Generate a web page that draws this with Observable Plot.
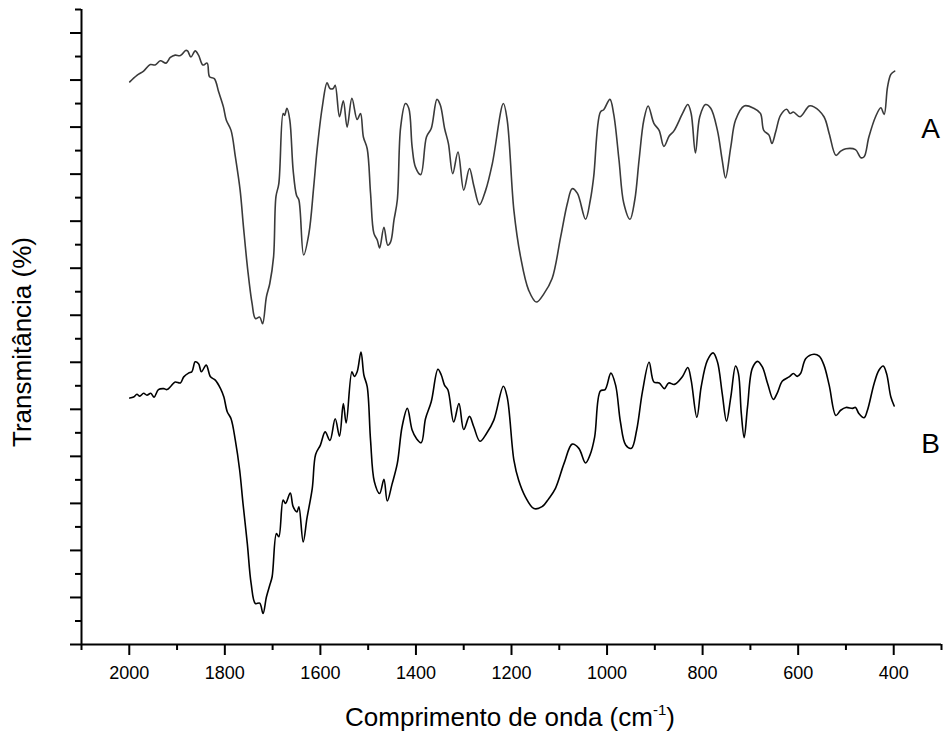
<!DOCTYPE html>
<html>
<head>
<meta charset="utf-8">
<script src="https://cdn.jsdelivr.net/npm/d3@7"></script>
<script src="https://cdn.jsdelivr.net/npm/@observablehq/plot@0.6"></script>
<style>
  html, body { margin: 0; padding: 0; background: #fff; }
  #chart { width: 944px; height: 738px; }
</style>
</head>
<body>
<div id="chart"></div>
<script>
// ---- data (wavenumber cm-1, transmittance in arbitrary % units) ----
const seriesNames = ["A", "B"];
const xMajorTicks = [2000, 1800, 1600, 1400, 1200, 1000, 800, 600, 400];
const xMinorTicks = [2100, 1900, 1700, 1500, 1300, 1100, 900, 700, 500, 300];
const yMajorTicks = [0, 10, 20, 30, 40, 50, 60, 70, 80, 90, 100, 110, 120, 130];
const yMinorTicks = [5, 15, 25, 35, 45, 55, 65, 75, 85, 95, 105, 115, 125, 135];

const spectrumA = [
  [1999,119.6],[1984,121.0],[1970,121.9],[1956,123.3],[1946,123.2],[1935,124.1],[1923,123.6],
  [1914,124.8],[1904,125.3],[1893,125.2],[1882,126.3],[1878,126.2],[1871,124.9],[1862,126.2],
  [1855,125.3],[1846,123.2],[1837,123.6],[1832,120.7],[1822,120.3],[1813,117.5],[1803,114.3],
  [1797,111.5],[1787,109.3],[1778,103.7],[1768,96.6],[1761,88.8],[1752,79.6],[1743,72.5],
  [1736,69.3],[1727,69.6],[1721,68.2],[1713,73.9],[1706,76.7],[1698,82.4],[1693,95.2],
  [1687,98.0],[1678,112.9],[1675,112.5],[1670,114.0],[1664,111.5],[1657,100.8],[1650,95.5],
  [1645,94.5],[1635,82.8],[1624,87.4],[1614,97.3],[1607,105.1],[1596,114.3],[1586,119.4],
  [1580,118.2],[1573,118.2],[1569,118.9],[1560,112.2],[1552,115.6],[1544,110.0],[1534,116.1],
  [1523,111.6],[1516,112.9],[1510,107.9],[1502,105.4],[1495,95.9],[1488,87.4],[1481,86.0],
  [1476,84.3],[1467,88.7],[1459,84.9],[1453,85.6],[1446,90.2],[1439,94.5],[1432,110.0],
  [1422,115.0],[1415,114.0],[1408,105.8],[1401,101.5],[1390,99.9],[1378,107.9],[1368,109.7],
  [1356,115.9],[1349,114.7],[1340,109.7],[1332,106.5],[1323,100.1],[1312,104.7],[1300,96.6],
  [1288,101.2],[1279,97.6],[1267,93.5],[1254,96.6],[1240,102.3],[1217,115.0],[1209,111.5],
  [1195,92.3],[1181,82.4],[1164,75.3],[1148,72.8],[1132,74.6],[1115,77.8],[1097,86.7],
  [1083,93.8],[1073,96.9],[1062,95.9],[1045,90.4],[1035,94.5],[1028,99.4],[1014,113.2],
  [1007,113.7],[994,115.9],[986,112.7],[975,103.0],[965,93.8],[952,90.4],[942,94.5],
  [933,103.0],[923,111.5],[914,114.5],[902,110.8],[891,109.3],[881,105.9],[870,108.1],
  [860,109.2],[842,112.9],[831,114.8],[824,112.9],[815,104.5],[806,112.2],[794,114.8],
  [783,114.0],[769,109.3],[759,103.0],[752,99.2],[741,105.8],[731,111.5],[713,114.5],
  [693,114.0],[679,112.9],[672,109.3],[661,108.3],[655,106.5],[647,109.0],[637,112.5],
  [624,113.8],[617,112.9],[610,113.2],[596,112.2],[577,114.5],[567,114.3],[546,112.2],
  [535,108.6],[521,104.0],[511,104.9],[500,105.4],[480,105.2],[469,103.5],[462,103.7],
  [452,107.9],[438,112.2],[427,114.1],[420,112.7],[413,118.5],[406,121.2],[398,121.9]
];

const spectrumB = [
  [1999,52.4],[1991,52.6],[1984,53.2],[1978,52.8],[1970,53.4],[1963,53.0],[1955,53.4],
  [1948,52.6],[1939,54.2],[1928,54.4],[1921,54.2],[1913,54.9],[1904,55.8],[1893,55.6],
  [1886,56.9],[1876,57.7],[1869,58.0],[1862,60.1],[1855,59.7],[1849,58.0],[1839,59.4],
  [1830,56.9],[1820,56.2],[1809,54.4],[1802,52.6],[1795,49.5],[1787,48.0],[1778,43.4],
  [1769,37.1],[1762,30.0],[1753,21.5],[1745,13.0],[1736,8.7],[1727,8.8],[1720,6.6],
  [1713,10.1],[1706,12.6],[1701,14.4],[1692,23.6],[1687,22.9],[1678,30.7],[1673,30.0],
  [1663,32.2],[1657,29.3],[1649,28.2],[1645,29.3],[1636,21.8],[1628,26.9],[1617,33.2],
  [1610,40.4],[1600,42.4],[1590,45.2],[1580,43.4],[1569,48.0],[1560,44.3],[1552,51.2],
  [1546,47.1],[1534,58.0],[1529,57.0],[1523,58.0],[1515,62.2],[1509,57.3],[1502,54.8],
  [1495,43.4],[1487,34.6],[1476,32.1],[1467,35.1],[1460,30.5],[1450,34.1],[1439,38.5],
  [1429,46.3],[1418,50.2],[1408,45.6],[1399,43.8],[1389,42.9],[1380,48.0],[1368,51.6],
  [1354,58.5],[1347,57.3],[1340,55.1],[1333,54.1],[1321,47.3],[1310,51.2],[1300,45.7],
  [1288,48.5],[1279,46.3],[1266,43.2],[1252,44.9],[1237,47.7],[1217,54.9],[1209,52.6],
  [1195,39.2],[1185,34.9],[1171,31.4],[1153,28.9],[1136,29.3],[1122,31.0],[1108,33.2],
  [1090,38.5],[1073,42.6],[1059,41.7],[1045,38.6],[1036,40.2],[1026,44.1],[1014,53.9],
  [1004,54.2],[992,57.7],[982,55.1],[972,47.3],[961,42.4],[949,41.7],[938,45.6],
  [926,53.7],[912,60.0],[902,55.8],[891,55.6],[880,54.4],[871,55.6],[859,55.3],
  [842,57.0],[831,58.9],[824,56.2],[812,48.3],[803,54.8],[790,60.4],[778,62.0],
  [769,60.1],[759,53.4],[750,47.5],[741,52.6],[731,59.2],[725,57.6],[719,49.1],
  [713,44.0],[706,50.5],[696,58.7],[685,60.2],[675,59.0],[664,55.5],[652,52.1],
  [644,53.4],[633,56.0],[619,56.9],[610,57.6],[602,57.0],[595,57.6],[584,60.8],
  [567,61.7],[556,61.3],[546,59.4],[535,55.1],[521,48.7],[511,49.8],[500,50.4],
  [486,50.2],[480,50.4],[473,49.1],[462,48.2],[455,49.8],[441,55.5],[431,58.3],
  [422,59.2],[415,57.6],[406,52.6],[399,50.7]
];

const rowsA = spectrumA.map(([w, t]) => ({w, t, s: seriesNames[0]}));
const rowsB = spectrumB.map(([w, t]) => ({w, t, s: seriesNames[1]}));

const font = "'Liberation Sans', Arial, Helvetica, sans-serif";

const chart = Plot.plot({
  width: 944,
  height: 738,
  marginLeft: 81,
  marginRight: 3,
  marginTop: 9,
  marginBottom: 94,
  x: {domain: [2100, 300]},
  y: {domain: [0, 135]},
  style: {fontFamily: font, fontSize: "18px", color: "#000", background: "#fff"},
  marks: [
    Plot.axisX({ticks: xMinorTicks, tickSize: 6, strokeWidth: 2, tickFormat: () => "", label: null}),
    Plot.axisX({ticks: xMajorTicks, tickSize: 11, strokeWidth: 2, tickPadding: 11,
                fontSize: 18, tickFormat: d3.format("d"), label: null}),
    Plot.axisY({ticks: yMinorTicks, tickSize: 6, strokeWidth: 2, tickFormat: () => "", label: null}),
    Plot.axisY({ticks: yMajorTicks, tickSize: 11, strokeWidth: 2, tickFormat: () => "", label: null}),
    Plot.ruleY([0], {strokeWidth: 2}),
    Plot.ruleX([2100], {strokeWidth: 2}),
    Plot.line(rowsA, {x: "w", y: "t", stroke: "#3a3a3a", strokeWidth: 1.6, curve: "catmull-rom"}),
    Plot.line(rowsB, {x: "w", y: "t", stroke: "#000", strokeWidth: 1.6, curve: "catmull-rom"}),
    Plot.text(seriesNames, {
      x: () => 323,
      y: (d, i) => [109.6, 42.7][i],
      text: d => d,
      fontSize: 28,
      fill: "#000"
    })
  ]
});

document.getElementById("chart").appendChild(chart);

const svg = d3.select(chart);
// thicker tick marks, as in the reference
svg.selectAll('g[aria-label$="tick"]').attr("stroke-width", 2)
  .selectAll("path, line").attr("stroke-width", 2);

// axis titles
const xt = svg.append("text")
  .attr("x", 510).attr("y", 726)
  .attr("text-anchor", "middle")
  .attr("font-family", font).attr("font-size", 26).attr("fill", "#000");
xt.append("tspan").text("Comprimento de onda (cm");
xt.append("tspan").attr("font-size", 15).attr("dy", -11).text("-1");
xt.append("tspan").attr("dy", 11).text(")");

svg.append("text")
  .attr("transform", "translate(31,342) rotate(-90)")
  .attr("text-anchor", "middle")
  .attr("font-family", font).attr("font-size", 26).attr("fill", "#000")
  .text("Transmitância (%)");
</script>
</body>
</html>
